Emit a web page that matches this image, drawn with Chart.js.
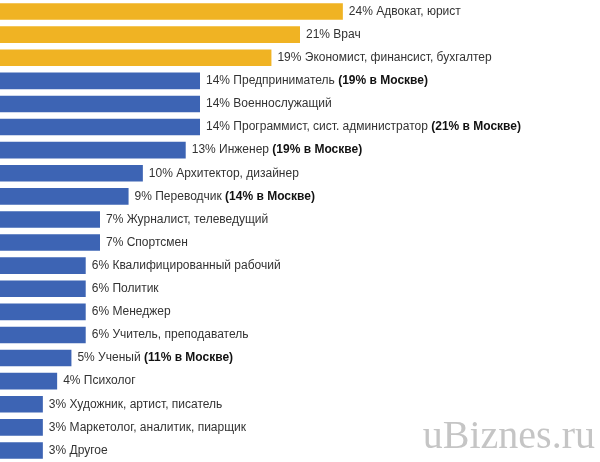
<!DOCTYPE html>
<html><head><meta charset="utf-8">
<script src="https://cdn.jsdelivr.net/npm/chart.js@4/dist/chart.umd.min.js"></script>
<style>html,body{margin:0;padding:0;background:#fff}#w{width:600px;height:462px;position:relative}</style>
</head><body><div id="w"><canvas id="c"></canvas></div>
<script>
const categories = ["Адвокат, юрист","Врач","Экономист, финансист, бухгалтер","Предприниматель","Военнослужащий","Программист, сист. администратор","Инженер","Архитектор, дизайнер","Переводчик","Журналист, телеведущий","Спортсмен","Квалифицированный рабочий","Политик","Менеджер","Учитель, преподаватель","Ученый","Психолог","Художник, артист, писатель","Маркетолог, аналитик, пиарщик","Другое"];
const values = [24,21,19,14,14,14,13,10,9,7,7,6,6,6,6,5,4,3,3,3];
const moscow = ["","","","19% в Москве","","21% в Москве","19% в Москве","","14% в Москве","","","","","","","11% в Москве","","","",""];
const colors = values.map((v,i)=> i<3 ? "#f0b323" : "#3d64b4");

const labelPlugin = {
  id:"lbl",
  afterDatasetsDraw(chart){
    const ctx = chart.ctx;
    const meta = chart.getDatasetMeta(0);
    ctx.save();
    ctx.textBaseline = "middle";
    meta.data.forEach((bar,i)=>{
      let x = bar.x + 6, y = bar.y;
      ctx.fillStyle = "#333";
      ctx.font = "12px 'Liberation Sans', Arial, sans-serif";
      const t = values[i] + "% " + categories[i];
      ctx.fillText(t, x, y);
      x += ctx.measureText(t).width;
      if (moscow[i]) {
        ctx.font = "bold 12px 'Liberation Sans', Arial, sans-serif";
        ctx.fillStyle = "#111";
        ctx.fillText(" (" + moscow[i] + ")", x, y);
      }
    });
    ctx.font = "40px 'Liberation Serif', serif";
    ctx.fillStyle = "rgba(150,150,150,0.55)";
    ctx.textAlign = "right";
    ctx.fillText("uBiznes.ru", 595, 437);
    ctx.restore();
  }
};

new Chart(document.getElementById("c"), {
  type:"bar",
  data:{labels:categories, datasets:[{data:values, backgroundColor:colors, barPercentage:0.72, categoryPercentage:1}]},
  options:{
    indexAxis:"y", responsive:true, maintainAspectRatio:false, animation:false,
    layout:{padding:0},
    plugins:{legend:{display:false}, tooltip:{enabled:false}},
    scales:{
      x:{display:false, min:0, max:42},
      y:{display:false}
    }
  },
  plugins:[labelPlugin]
});
</script></body></html>
